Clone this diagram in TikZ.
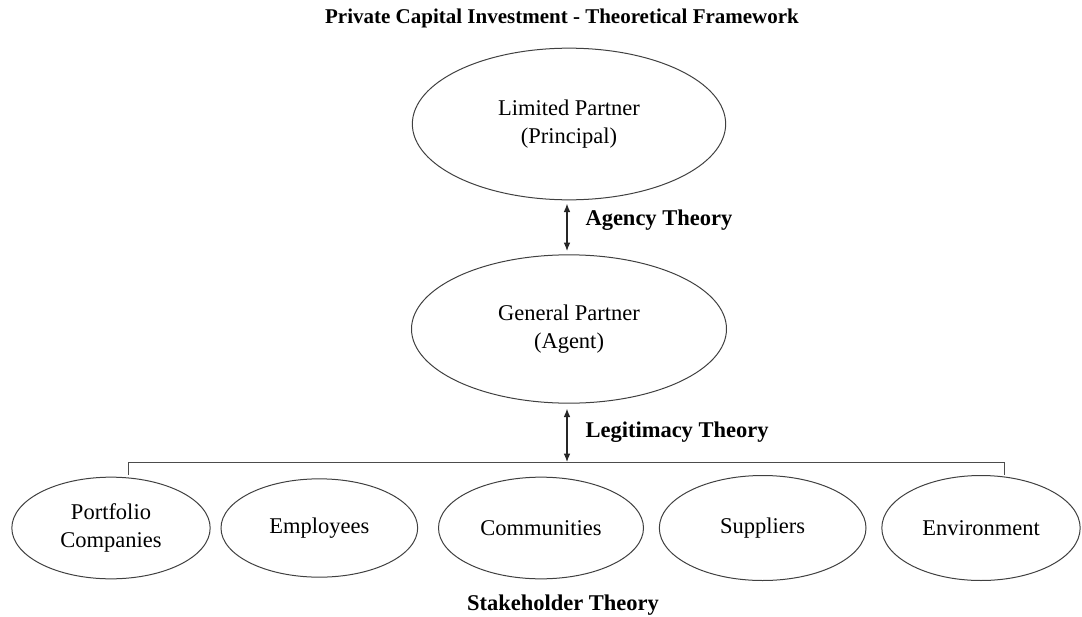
\documentclass[tikz,border=0pt]{standalone}
\usepackage{fontspec}
\setmainfont{Liberation Serif}
\usetikzlibrary{shapes,arrows,arrows.meta}

\begin{document}
\begin{tikzpicture}[x=0.6pt, y=-0.6pt, every text node part/.style={text centered},
                    font=\fontsize{13.5}{16.5}\selectfont]
\tikzset{every node/.style={ellipse, draw=black!75, line width=0.6pt,
                            inner sep=0pt, align=center},
         theory/.style={rectangle, draw=none,
                        font=\fontsize{13.5}{16.5}\selectfont\bfseries},
         link/.style={{Latex[length=5pt,width=4pt]}-{Latex[length=5pt,width=4pt]},
                      black!85, line width=0.7pt}}
\useasboundingbox (0,0) rectangle (1082,617);

\node(title) [theory, font=\fontsize{12.6}{15}\selectfont\bfseries] at (562,18)
  {Private Capital Investment - Theoretical Framework};

\node(limited) [minimum width=188pt, minimum height=91pt] at (569,124)
  {Limited Partner\\(Principal)};

\node(general) [below of=limited, node distance=123pt,
                minimum width=189pt, minimum height=89pt]
  {General Partner\\(Agent)};

\node(portfolio) [minimum width=119pt, minimum height=61pt] at (111,528)
  {Portfolio\\Companies};

\node(employees) [right of=portfolio, node distance=125pt,
                  minimum width=118pt, minimum height=59pt]
  {Employees};

\node(communities) [right of=employees, node distance=133pt,
                    minimum width=123pt, minimum height=61pt]
  {Communities};

\node(suppliers) [right of=communities, node distance=133pt,
                  minimum width=124pt, minimum height=63pt]
  {Suppliers};

\node(environment) [right of=suppliers, node distance=131pt,
                    minimum width=119pt, minimum height=63pt]
  {Environment};

\node(agency) [theory, anchor=west] at (585,220) {Agency Theory};

\node(legitimacy) [theory, anchor=west] at (585,432) {Legitimacy Theory};

\node(stakeholder) [theory] at (563,605) {Stakeholder Theory};

\coordinate (bracketmid) at (567,462);
\coordinate (bracketleft) at (128,462);
\coordinate (bracketright) at (1004,462);

\draw[link, shorten <=2pt, shorten >=2pt]
  (limited.south -| bracketmid) -- (general.north -| bracketmid);
\draw[link, shorten <=3pt]
  (general.south -| bracketmid) -- (bracketmid);
\draw[black!70, line width=0.6pt]
  ([yshift=-13*0.6pt]bracketleft) -- (bracketleft) -- (bracketright)
  -- ([yshift=-13*0.6pt]bracketright);

\end{tikzpicture}
\end{document}
